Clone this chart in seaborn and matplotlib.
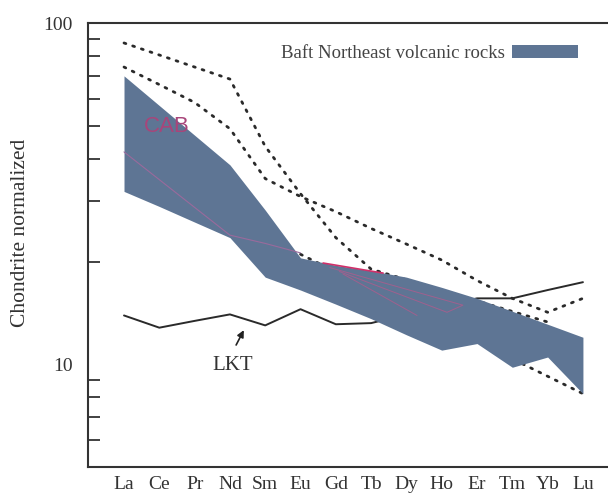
import matplotlib
matplotlib.use("Agg")
import matplotlib.pyplot as plt
from matplotlib.patches import Patch
from matplotlib.ticker import LogLocator, FixedLocator, NullFormatter, FixedFormatter
import seaborn as sns
import pandas as pd

# REE chondrite-normalized pattern data
elements = ["La", "Ce", "Pr", "Nd", "Sm", "Eu", "Gd", "Tb", "Dy", "Ho", "Er", "Tm", "Yb", "Lu"]
band_upper = [70.0, 57.3, 46.9, 38.4, 28.3, 20.5, 19.5, 18.8, 18.0, 16.8, 15.6, 14.3, 13.1, 12.0]
band_lower = [32.1, 29.0, 26.1, 23.5, 18.0, 16.5, 15.0, 13.6, 12.2, 11.0, 11.5, 9.8, 10.5, 8.2]
lkt = [13.9, 12.8, 13.4, 14.0, 13.0, 14.5, 13.1, 13.2, 14.0, 14.8, 15.6, 15.6, 16.5, 17.4]

# dotted CAB field boundaries (x = element index)
cab_a_x = [0, 3, 4, 5, 6, 7, 12]
cab_a_y = [87.4, 68.5, 43.5, 31.6, 23.5, 19.0, 13.3]
cab_b_x = [0, 1, 2, 3, 4, 5, 6, 7, 8, 9, 10, 11, 12, 13]
cab_b_y = [74.3, 66.0, 58.5, 49.0, 35.0, 31.0, 28.0, 25.0, 22.5, 20.2, 17.6, 15.6, 14.2, 15.6]
cab_c_x = [5, 13]
cab_c_y = [21.0, 8.2]

# thin pink CAB outlines inside the band
pink1_x = [0, 3, 4, 5]
pink1_y = [41.9, 23.9, 22.6, 21.2]
pink2_x = [5.64, 7.34]
pink2_y = [19.8, 18.5]
pink3_x = [5.83, 9.6, 9.15, 6.1]
pink3_y = [19.2, 14.9, 14.2, 18.7]
pink4_x = [6.2, 8.3]
pink4_y = [18.4, 13.9]

sns.set_theme(style="white")
plt.rcParams["font.family"] = ["Liberation Serif", "DejaVu Serif"]

band_color = "#5e7594"
ink = "#333333"

fig = plt.figure(figsize=(6.08, 4.94), dpi=100)
ax = fig.add_axes([88 / 608, 27 / 494, 520 / 608, 444 / 494])

xi = list(range(len(elements)))
df = pd.DataFrame({"x": xi, "lkt": lkt})

sns.lineplot(data=df, x="x", y="lkt", ax=ax, color="#2a2a2a", lw=1.4, zorder=2)

dot = dict(color="#2a2a2a", lw=2.0, linestyle=(0, (0.7, 2.6)), dash_capstyle="round", zorder=1)
ax.plot(cab_a_x, cab_a_y, **dot)
ax.plot(cab_b_x, cab_b_y, **dot)
ax.plot(cab_c_x, cab_c_y, **dot)

ax.fill_between(xi, band_lower, band_upper, color=band_color, lw=0, zorder=3)

ax.plot(pink1_x, pink1_y, color="#9a6a9c", lw=0.8, zorder=4)
ax.plot(pink2_x, pink2_y, color="#d0306a", lw=1.2, zorder=4)
ax.plot(pink3_x, pink3_y, color="#a0608e", lw=0.7, zorder=4)
ax.plot(pink4_x, pink4_y, color="#a0608e", lw=0.7, zorder=4)

ax.text(1.22, 49.9, "CAB", color="#a8457a", fontsize=16,
        family=["Liberation Sans", "DejaVu Sans"], ha="center", va="center", zorder=5)
ax.text(3.09, 9.9, "LKT", color=ink, fontsize=15, ha="center", va="center")
ax.annotate("", xy=(3.43, 12.8), xytext=(3.14, 11.2),
            arrowprops=dict(arrowstyle="-|>", color="#222222", lw=1.2, mutation_scale=10))

ax.set_yscale("log")
ax.set_xlim(-1.02, 13.71)
ax.set_ylim(5, 100)

ax.xaxis.set_major_locator(FixedLocator(xi))
ax.set_xticklabels(elements)
ax.yaxis.set_major_locator(FixedLocator([10, 100]))
ax.yaxis.set_major_formatter(FixedFormatter(["10", "100"]))
ax.yaxis.set_minor_locator(LogLocator(base=10, subs=[2, 3, 4, 5, 6, 7, 8, 9]))
ax.yaxis.set_minor_formatter(NullFormatter())

ax.tick_params(axis="x", which="major", direction="in", length=8.6, width=1.3,
               color=ink, labelcolor=ink, labelsize=14, pad=6.5)
ax.tick_params(axis="y", which="major", direction="in", length=14.4, width=1.3,
               color=ink, labelcolor=ink, labelsize=14, pad=11)
ax.tick_params(axis="y", which="minor", direction="in", length=8.6, width=1.3,
               color=ink, left=True)

ax.set_xlabel("")
ax.set_ylabel("Chondrite normalized", fontsize=15.5, color=ink)
ax.yaxis.set_label_coords(-0.112, 0.527)

for side in ["left", "top", "bottom"]:
    ax.spines[side].set_color(ink)
    ax.spines[side].set_linewidth(1.5)
ax.spines["right"].set_visible(False)

ax.legend(handles=[Patch(facecolor=band_color, edgecolor="none")],
          labels=["Baft Northeast volcanic rocks"],
          loc="center right", bbox_to_anchor=(0.942, 0.932),
          frameon=False, markerfirst=False, fontsize=13.5,
          handlelength=3.5, handleheight=0.72, handletextpad=0.4,
          borderpad=0, borderaxespad=0, labelcolor="#444444")

fig.savefig("out.png", dpi=100)
